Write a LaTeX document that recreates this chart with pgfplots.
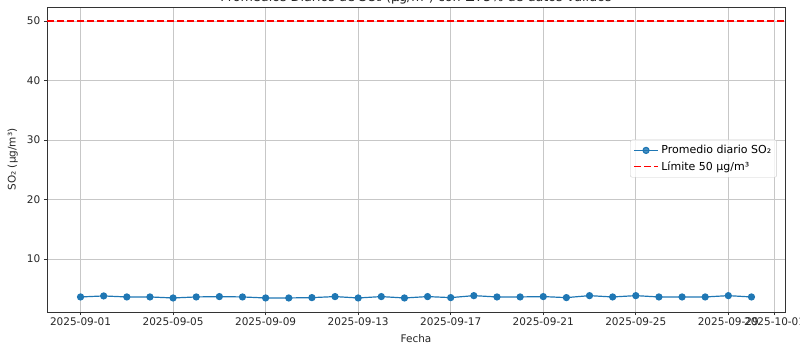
\documentclass[border=0pt]{standalone}
\usepackage{pgfplots}
\pgfplotsset{compat=1.18}
\usepackage{fontspec}
\setmainfont{DejaVu Sans}
\usetikzlibrary{calc}
\definecolor{mplblue}{HTML}{1F77B4}
\pgfplotstableread{
d v
0 3.60
1 3.77
2 3.60
3 3.60
4 3.43
5 3.60
6 3.66
7 3.60
8 3.43
9 3.43
10 3.49
11 3.66
12 3.43
13 3.66
14 3.43
15 3.66
16 3.49
17 3.82
18 3.60
19 3.60
20 3.66
21 3.49
22 3.82
23 3.60
24 3.82
25 3.60
26 3.60
27 3.60
28 3.82
29 3.60
}\so
\begin{document}
\fontsize{10.5bp}{12bp}\selectfont
\begin{tikzpicture}
\begin{axis}[
  name=ax,
  scale only axis,
  width=738bp, height=305bp,
  xmin=-1.45, xmax=30.45,
  ymin=1.07, ymax=52.35,
  xtick={0,4,8,12,16,20,24,28,30},
  xticklabels={2025-09-01,2025-09-05,2025-09-09,2025-09-13,2025-09-17,2025-09-21,2025-09-25,2025-09-29,2025-10-01},
  ytick={10,20,30,40,50},
  /pgf/number format/assume math mode=true,
  tick pos=left,
  tick align=outside,
  major tick length=3bp,
  every tick/.style={black!80, line width=0.6pt},
  axis line style={black!80, line width=0.8pt},
  grid=major,
  major grid style={black!22, line width=0.7pt},
  tick label style={font=\fontsize{10.5bp}{12bp}\selectfont, text=black!85},
  xticklabel style={yshift=1bp},
  label style={font=\fontsize{10.5bp}{12bp}\selectfont, text=black!85},
  xlabel={Fecha},
  ylabel={SO₂ (µg/m³)},
  xlabel style={yshift=-1.5bp},
  ylabel style={yshift=2bp},
  every axis title shift=0pt,
  title={Promedios Diarios de SO₂ (µg/m³) con ≥75\% de datos válidos},
  title style={at={(rel axis cs:0.5,1)}, anchor=base, yshift=5bp, font=\fontsize{12.7bp}{14bp}\selectfont, text=black!85},
  legend style={at={(rel axis cs:0.989,0.503)}, anchor=east, draw=black!20, rounded corners=2bp, fill=white, fill opacity=0.8, text opacity=1, font=\fontsize{11bp}{12bp}\selectfont, row sep=1bp, inner sep=3bp, nodes={inner sep=2.5bp}},
  legend image code/.code={\draw[mark repeat=2,mark phase=2,#1] plot coordinates {(0bp,0bp) (12bp,0bp) (24bp,0bp)};},
  legend cell align=left,
]
\addplot[color=mplblue, line width=1.2pt, mark=*, mark size=3bp, mark options={solid, fill=mplblue, draw=mplblue}] table[x=d, y=v] {\so};
\addlegendentry{Promedio diario SO₂}
\addplot[red, line width=1.6pt, dash pattern=on 7bp off 3bp] coordinates {(-1.45,50) (30.45,50)};
\addlegendentry{Límite 50 µg/m³}
\end{axis}
\pgfresetboundingbox
\path[use as bounding box] ($(ax.south west)+(-47bp,-33bp)$) rectangle ($(ax.north east)+(15bp,7bp)$);
\end{tikzpicture}
\end{document}
